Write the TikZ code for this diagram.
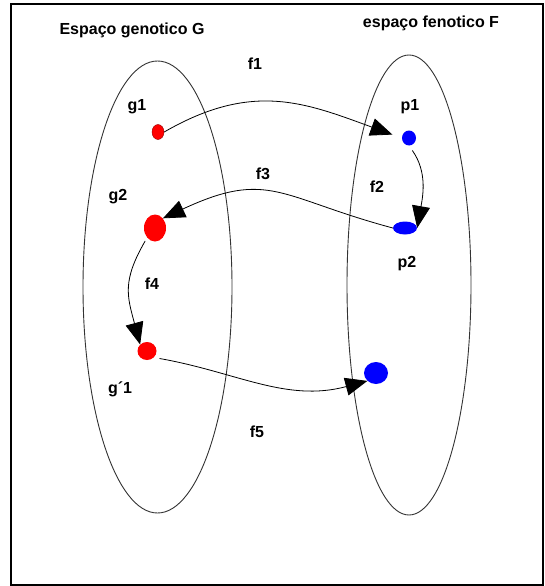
\documentclass[tikz,border=0pt]{standalone}
\usepackage{fontspec}
\setmainfont{Liberation Sans}
\usetikzlibrary{arrows.meta,shapes.geometric}

\begin{document}
\begin{tikzpicture}[x=1pt,y=-1pt]
\tikzset{
  spaceset/.style={draw=black!80,line width=0.9pt},
  redpoint/.style={ellipse,fill=red,inner sep=0pt},
  bluepoint/.style={ellipse,fill=blue,inner sep=0pt},
  maplabel/.style={font=\fontsize{16}{18}\selectfont\bfseries,inner sep=0pt},
  mapedge/.style={draw=black,line width=0.8pt,line cap=round,-{Triangle[length=22pt,width=18pt]}}
}
\useasboundingbox (0,0) rectangle (545,586);
\draw[line width=2pt] (11,4) rectangle (543,585);
% the two spaces
\draw[spaceset] (157.5,287) ellipse [x radius=74.5,y radius=226];
\draw[spaceset] (409,285) ellipse [x radius=62,y radius=230];
\node[maplabel] (t_G) at (132,30) {Espaço genotico G};
\node[maplabel] (t_F) at (431,23) {espaço fenotico F};
% points
\node[redpoint,minimum width=12pt,minimum height=15pt,draw=red!60!black,line width=0.4pt] (n_g1) at (158,132) {};
\node[bluepoint,minimum width=14pt,minimum height=15pt] (n_p1) at (409,138) {};
\node[redpoint,minimum width=22pt,minimum height=27pt] (n_g2) at (155,228) {};
\node[bluepoint,minimum width=24pt,minimum height=13pt] (n_p2) at (405,228) {};
\node[redpoint,minimum width=19pt,minimum height=18pt] (n_g1b) at (147,351) {};
\node[bluepoint,minimum width=24pt,minimum height=22pt] (n_p3) at (376,373) {};
% labels
\node[maplabel] (l_g1) at (137,107) {g1};
\node[maplabel] (l_p1) at (410,107) {p1};
\node[maplabel] (l_g2) at (118,197) {g2};
\node[maplabel] (l_p2) at (407,264) {p2};
\node[maplabel] (l_g1b) at (120,389) {g´1};
\node[maplabel] (l_f1) at (255,64) {f1};
\node[maplabel] (l_f2) at (377,187) {f2};
\node[maplabel] (l_f3) at (263,174) {f3};
\node[maplabel] (l_f4) at (152,284) {f4};
\node[maplabel] (l_f5) at (257,432) {f5};
% maps
\draw[mapedge,shorten >=10pt] (n_g1.east) to[out=30,in=160,looseness=1.1] (n_p1.west);
\draw[mapedge,shorten <=6pt] (n_p1.south) to[out=-55,in=80] (n_p2.east);
\draw[mapedge] (n_p2.west) to[out=165,in=25,looseness=1.3] (n_g2.north east);
\draw[mapedge,shorten <=4pt] (n_g2.south west) to[out=240,in=105,looseness=1.2] (n_g1b.north west);
\draw[mapedge,shorten <=6pt] (n_g1b.south east) to[out=-10,in=195] (n_p3.south west);
\end{tikzpicture}
\end{document}
